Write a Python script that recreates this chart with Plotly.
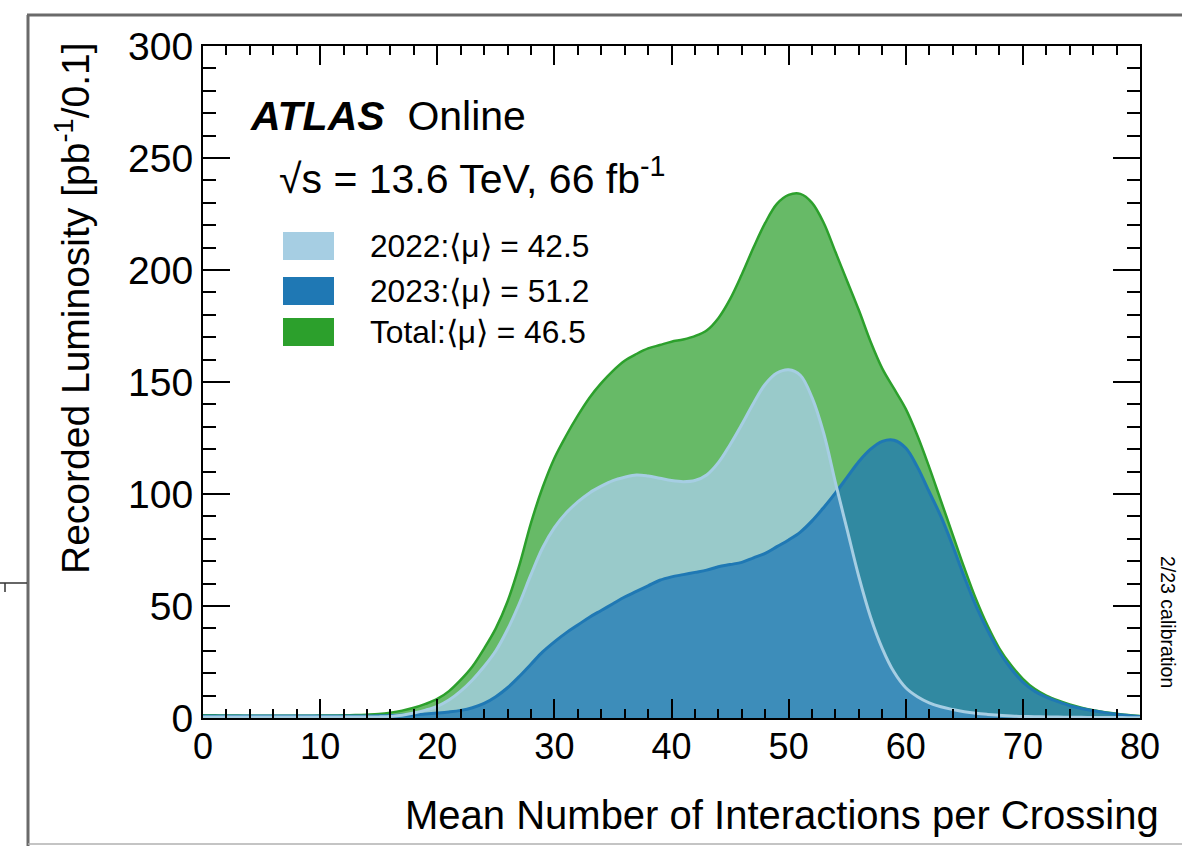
import plotly.graph_objects as go

# ---------------- data ----------------
mu = list(range(0, 81))

lumi_total = [1.2, 1.2, 1.1, 1.1, 1.0, 1.0, 1.0, 1.0, 1.0, 1.0,
              1.1, 1.1, 1.2, 1.3, 1.5, 1.8, 2.4, 3.3, 4.6, 6.3,
              8.5, 12, 17, 23, 31, 40, 52, 68, 87, 103,
              116, 126, 135, 143, 149.5, 155, 159.5, 162.5, 165, 166.5,
              168, 169, 170.5, 173, 178.5, 187, 198, 210, 221, 229.5,
              233.5, 234, 230, 221, 208, 195, 182, 168, 156, 147,
              138, 126, 112, 97, 82, 67, 53, 41, 31, 23.5,
              17.5, 13, 10, 7.8, 6, 4.6, 3.5, 2.6, 1.9, 1.3, 0.9]

lumi_2022 = [0.4, 0.4, 0.4, 0.4, 0.4, 0.4, 0.4, 0.4, 0.4, 0.4,
             0.4, 0.4, 0.4, 0.4, 0.4, 0.5, 0.7, 1.2, 2.2, 3.5,
             5.2, 8, 12, 17, 23, 30, 39.5, 51, 64, 76,
             85, 91.5, 96.5, 100.5, 103.5, 106, 107.5, 108.5, 108, 107,
             106, 105.5, 106, 108.5, 114, 122, 131, 140.5, 149, 154,
             155.5, 153, 143, 127, 105, 84, 63, 45, 31, 20.5,
             13.5, 9.5, 6.8, 5, 3.8, 2.8, 2.1, 1.6, 1.2, 0.9,
             0.7, 0.6, 0.5, 0.4, 0.35, 0.3, 0.25, 0.2, 0.2, 0.15, 0.1]

lumi_2023 = [0.9, 0.9, 0.9, 0.9, 0.9, 0.9, 0.9, 0.9, 0.9, 0.9,
             0.9, 0.9, 0.9, 0.9, 0.9, 1.0, 1.1, 1.3, 1.5, 1.8,
             2.2, 2.7, 3.4, 4.6, 6.5, 9.5, 13.5, 18.5, 24, 29.5,
             34, 38, 41.5, 45, 48, 51, 54, 56.5, 59, 61.5,
             63, 64, 65, 66, 67.5, 68.5, 69.5, 71.5, 73.5, 76.5,
             79.5, 83, 88, 94, 100.5, 107.5, 114.5, 120, 123.5, 124,
             120.5, 112, 101, 90, 77, 63, 50, 39, 29.5, 22,
             16, 12, 9.3, 7.3, 5.5, 4.2, 3.2, 2.4, 1.7, 1.1, 0.7]

legend_labels = ["2022:\u27e8\u03bc\u27e9 = 42.5", "2023:\u27e8\u03bc\u27e9 = 51.2", "Total:\u27e8\u03bc\u27e9 = 46.5"]
legend_colors = ["#a6cee3", "#1f78b4", "#2ca02c"]

x_ticks = [0, 10, 20, 30, 40, 50, 60, 70, 80]
y_ticks = [0, 50, 100, 150, 200, 250, 300]

# ---------------- geometry (pixels) ----------------
W, H = 1182, 846
L, R, T, B = 203, 1140, 46, 718  # plot area in px


def px(xp):
    return (xp - L) / (R - L)


def py(yp):
    return (B - yp) / (B - T)


FONT = "Liberation Sans, Arial, Helvetica, sans-serif"
SPL = dict(shape="spline", smoothing=1.0)

fig = go.Figure()

# fills
fig.add_trace(go.Scatter(x=mu, y=lumi_total, mode="lines", fill="tozeroy",
                         fillcolor="rgba(44,160,44,0.72)", line=dict(width=0, **SPL),
                         hoverinfo="skip", showlegend=False))
fig.add_trace(go.Scatter(x=mu, y=lumi_2022, mode="lines", fill="tozeroy",
                         fillcolor="rgba(166,206,227,0.80)", line=dict(width=0, **SPL),
                         hoverinfo="skip", showlegend=False))
fig.add_trace(go.Scatter(x=mu, y=lumi_2023, mode="lines", fill="tozeroy",
                         fillcolor="rgba(31,120,180,0.75)", line=dict(width=0, **SPL),
                         hoverinfo="skip", showlegend=False))
# outlines
fig.add_trace(go.Scatter(x=mu, y=lumi_total, mode="lines",
                         line=dict(color="#2ca02c", width=2.5, **SPL), showlegend=False))
fig.add_trace(go.Scatter(x=mu, y=lumi_2023, mode="lines",
                         line=dict(color="#1f78b4", width=3, **SPL), showlegend=False))
fig.add_trace(go.Scatter(x=mu, y=lumi_2022, mode="lines",
                         line=dict(color="#a6cee3", width=3, **SPL), showlegend=False))

axis_common = dict(showgrid=False, zeroline=False, showline=True, linecolor="black", linewidth=2,
                   mirror="ticks", ticks="inside", tickcolor="black", tickwidth=1.8)

fig.update_xaxes(range=[0, 80], tickvals=x_ticks, ticktext=[str(v) for v in x_ticks], ticklen=19,
                 tickfont=dict(family=FONT, size=36, color="black"), ticklabelstandoff=-4,
                 minor=dict(dtick=2, ticklen=9, ticks="inside", tickcolor="black", tickwidth=1.5),
                 **axis_common)
fig.update_yaxes(range=[0, 300], tickvals=y_ticks, ticktext=[str(v) for v in y_ticks], ticklen=27,
                 tickfont=dict(family=FONT, size=39, color="black"),
                 minor=dict(dtick=10, ticklen=13, ticks="inside", tickcolor="black", tickwidth=1.5),
                 **axis_common)

annotations = []
# ATLAS label
annotations.append(dict(x=px(248), y=py(116), xref="paper", yref="paper", xanchor="left", yanchor="middle",
                        text="<b><i>ATLAS</i></b>  Online", showarrow=False,
                        font=dict(family=FONT, size=41, color="black")))
annotations.append(dict(x=px(277), y=py(176), xref="paper", yref="paper", xanchor="left", yanchor="middle",
                        text="\u221as = 13.6 TeV, 66 fb<sup>-1</sup>", showarrow=False,
                        font=dict(family=FONT, size=41, color="black")))

shapes = []
row_y = [246, 291, 332]
for lab, col, yc in zip(legend_labels, legend_colors, row_y):
    shapes.append(dict(type="rect", xref="paper", yref="paper",
                       x0=px(283), x1=px(334), y0=py(yc - 14), y1=py(yc + 14),
                       fillcolor=col, line=dict(width=0)))
    annotations.append(dict(x=px(368), y=py(yc), xref="paper", yref="paper", xanchor="left", yanchor="middle",
                            text=lab, showarrow=False, font=dict(family=FONT, size=31.7, color="black")))

# axis titles
annotations.append(dict(x=px(1161), y=py(815), xref="paper", yref="paper", xanchor="right", yanchor="middle",
                        text="Mean Number of Interactions per Crossing", showarrow=False,
                        font=dict(family=FONT, size=40, color="black")))
annotations.append(dict(x=px(72), y=py(40), xref="paper", yref="paper", xanchor="center", yanchor="top",
                        text="Recorded Luminosity [pb<sup>-1</sup>/0.1]", textangle=-90, showarrow=False,
                        font=dict(family=FONT, size=39, color="black")))
annotations.append(dict(x=px(1168), y=py(622), xref="paper", yref="paper", xanchor="center", yanchor="middle",
                        text="2/23 calibration", textangle=90, showarrow=False,
                        font=dict(family=FONT, size=19.5, color="black")))

# outer frame (screenshot border)
shapes.append(dict(type="line", xref="paper", yref="paper", x0=px(28), x1=px(28), y0=py(15), y1=py(846),
                   line=dict(color="#6a6a6a", width=3)))
shapes.append(dict(type="line", xref="paper", yref="paper", x0=px(27), x1=px(1182), y0=py(15), y1=py(15),
                   line=dict(color="#6a6a6a", width=3)))
shapes.append(dict(type="line", xref="paper", yref="paper", x0=px(28), x1=px(1182), y0=py(844), y1=py(844),
                   line=dict(color="#b0b0b0", width=1.5)))
shapes.append(dict(type="line", xref="paper", yref="paper", x0=px(0), x1=px(27), y0=py(583), y1=py(583),
                   line=dict(color="#333333", width=1.5)))
shapes.append(dict(type="line", xref="paper", yref="paper", x0=px(5), x1=px(5), y0=py(583), y1=py(592),
                   line=dict(color="#333333", width=1.5)))

fig.update_layout(width=W, height=H, margin=dict(l=L, r=W - R, t=T, b=H - B, pad=0),
                  paper_bgcolor="white", plot_bgcolor="white", showlegend=False,
                  annotations=annotations, shapes=shapes)

fig.write_html("out.html")
